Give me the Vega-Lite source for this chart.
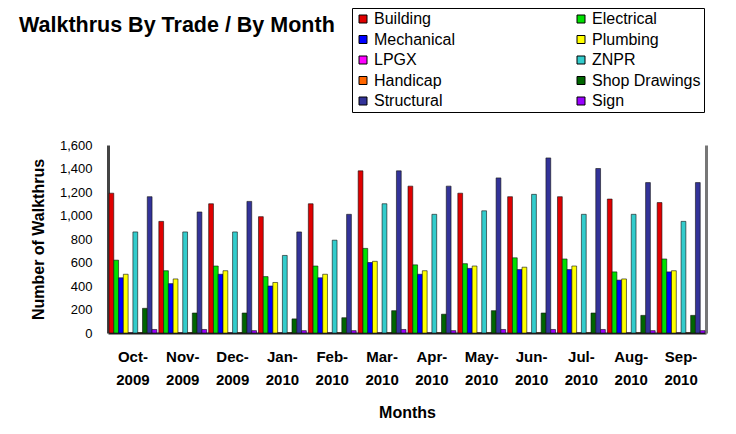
{
  "$schema": "https://vega.github.io/schema/vega-lite/v6.json",
  "autosize": "none",
  "width": 598,
  "height": 188,
  "padding": {"left": 108, "top": 145, "right": 30, "bottom": 101},
  "background": "white",
  "title": {
    "text": "Walkthrus By Trade / By Month",
    "anchor": "start",
    "frame": "group",
    "font": "Liberation Sans",
    "fontSize": 21.5,
    "fontWeight": "bold",
    "color": "black",
    "dx": -89,
    "dy": 33
  },
  "data": {
    "values": [
      {"month": "Oct-2009", "trade": "Building", "count": 1190},
      {"month": "Oct-2009", "trade": "Electrical", "count": 620},
      {"month": "Oct-2009", "trade": "Mechanical", "count": 470},
      {"month": "Oct-2009", "trade": "Plumbing", "count": 500},
      {"month": "Oct-2009", "trade": "LPGX", "count": 2},
      {"month": "Oct-2009", "trade": "ZNPR", "count": 860},
      {"month": "Oct-2009", "trade": "Handicap", "count": 3},
      {"month": "Oct-2009", "trade": "Shop Drawings", "count": 210},
      {"month": "Oct-2009", "trade": "Structural", "count": 1160},
      {"month": "Oct-2009", "trade": "Sign", "count": 30},
      {"month": "Nov-2009", "trade": "Building", "count": 950},
      {"month": "Nov-2009", "trade": "Electrical", "count": 530},
      {"month": "Nov-2009", "trade": "Mechanical", "count": 420},
      {"month": "Nov-2009", "trade": "Plumbing", "count": 460},
      {"month": "Nov-2009", "trade": "LPGX", "count": 2},
      {"month": "Nov-2009", "trade": "ZNPR", "count": 860},
      {"month": "Nov-2009", "trade": "Handicap", "count": 3},
      {"month": "Nov-2009", "trade": "Shop Drawings", "count": 170},
      {"month": "Nov-2009", "trade": "Structural", "count": 1030},
      {"month": "Nov-2009", "trade": "Sign", "count": 30},
      {"month": "Dec-2009", "trade": "Building", "count": 1100},
      {"month": "Dec-2009", "trade": "Electrical", "count": 570},
      {"month": "Dec-2009", "trade": "Mechanical", "count": 500},
      {"month": "Dec-2009", "trade": "Plumbing", "count": 530},
      {"month": "Dec-2009", "trade": "LPGX", "count": 2},
      {"month": "Dec-2009", "trade": "ZNPR", "count": 860},
      {"month": "Dec-2009", "trade": "Handicap", "count": 3},
      {"month": "Dec-2009", "trade": "Shop Drawings", "count": 170},
      {"month": "Dec-2009", "trade": "Structural", "count": 1120},
      {"month": "Dec-2009", "trade": "Sign", "count": 20},
      {"month": "Jan-2010", "trade": "Building", "count": 990},
      {"month": "Jan-2010", "trade": "Electrical", "count": 480},
      {"month": "Jan-2010", "trade": "Mechanical", "count": 400},
      {"month": "Jan-2010", "trade": "Plumbing", "count": 430},
      {"month": "Jan-2010", "trade": "LPGX", "count": 2},
      {"month": "Jan-2010", "trade": "ZNPR", "count": 660},
      {"month": "Jan-2010", "trade": "Handicap", "count": 3},
      {"month": "Jan-2010", "trade": "Shop Drawings", "count": 120},
      {"month": "Jan-2010", "trade": "Structural", "count": 860},
      {"month": "Jan-2010", "trade": "Sign", "count": 20},
      {"month": "Feb-2010", "trade": "Building", "count": 1100},
      {"month": "Feb-2010", "trade": "Electrical", "count": 570},
      {"month": "Feb-2010", "trade": "Mechanical", "count": 470},
      {"month": "Feb-2010", "trade": "Plumbing", "count": 500},
      {"month": "Feb-2010", "trade": "LPGX", "count": 2},
      {"month": "Feb-2010", "trade": "ZNPR", "count": 790},
      {"month": "Feb-2010", "trade": "Handicap", "count": 3},
      {"month": "Feb-2010", "trade": "Shop Drawings", "count": 130},
      {"month": "Feb-2010", "trade": "Structural", "count": 1010},
      {"month": "Feb-2010", "trade": "Sign", "count": 20},
      {"month": "Mar-2010", "trade": "Building", "count": 1380},
      {"month": "Mar-2010", "trade": "Electrical", "count": 720},
      {"month": "Mar-2010", "trade": "Mechanical", "count": 600},
      {"month": "Mar-2010", "trade": "Plumbing", "count": 610},
      {"month": "Mar-2010", "trade": "LPGX", "count": 2},
      {"month": "Mar-2010", "trade": "ZNPR", "count": 1100},
      {"month": "Mar-2010", "trade": "Handicap", "count": 3},
      {"month": "Mar-2010", "trade": "Shop Drawings", "count": 190},
      {"month": "Mar-2010", "trade": "Structural", "count": 1380},
      {"month": "Mar-2010", "trade": "Sign", "count": 30},
      {"month": "Apr-2010", "trade": "Building", "count": 1250},
      {"month": "Apr-2010", "trade": "Electrical", "count": 580},
      {"month": "Apr-2010", "trade": "Mechanical", "count": 500},
      {"month": "Apr-2010", "trade": "Plumbing", "count": 530},
      {"month": "Apr-2010", "trade": "LPGX", "count": 2},
      {"month": "Apr-2010", "trade": "ZNPR", "count": 1010},
      {"month": "Apr-2010", "trade": "Handicap", "count": 3},
      {"month": "Apr-2010", "trade": "Shop Drawings", "count": 160},
      {"month": "Apr-2010", "trade": "Structural", "count": 1250},
      {"month": "Apr-2010", "trade": "Sign", "count": 20},
      {"month": "May-2010", "trade": "Building", "count": 1190},
      {"month": "May-2010", "trade": "Electrical", "count": 590},
      {"month": "May-2010", "trade": "Mechanical", "count": 550},
      {"month": "May-2010", "trade": "Plumbing", "count": 570},
      {"month": "May-2010", "trade": "LPGX", "count": 2},
      {"month": "May-2010", "trade": "ZNPR", "count": 1040},
      {"month": "May-2010", "trade": "Handicap", "count": 3},
      {"month": "May-2010", "trade": "Shop Drawings", "count": 190},
      {"month": "May-2010", "trade": "Structural", "count": 1320},
      {"month": "May-2010", "trade": "Sign", "count": 30},
      {"month": "Jun-2010", "trade": "Building", "count": 1160},
      {"month": "Jun-2010", "trade": "Electrical", "count": 640},
      {"month": "Jun-2010", "trade": "Mechanical", "count": 540},
      {"month": "Jun-2010", "trade": "Plumbing", "count": 560},
      {"month": "Jun-2010", "trade": "LPGX", "count": 2},
      {"month": "Jun-2010", "trade": "ZNPR", "count": 1180},
      {"month": "Jun-2010", "trade": "Handicap", "count": 3},
      {"month": "Jun-2010", "trade": "Shop Drawings", "count": 170},
      {"month": "Jun-2010", "trade": "Structural", "count": 1490},
      {"month": "Jun-2010", "trade": "Sign", "count": 30},
      {"month": "Jul-2010", "trade": "Building", "count": 1160},
      {"month": "Jul-2010", "trade": "Electrical", "count": 630},
      {"month": "Jul-2010", "trade": "Mechanical", "count": 540},
      {"month": "Jul-2010", "trade": "Plumbing", "count": 570},
      {"month": "Jul-2010", "trade": "LPGX", "count": 2},
      {"month": "Jul-2010", "trade": "ZNPR", "count": 1010},
      {"month": "Jul-2010", "trade": "Handicap", "count": 3},
      {"month": "Jul-2010", "trade": "Shop Drawings", "count": 170},
      {"month": "Jul-2010", "trade": "Structural", "count": 1400},
      {"month": "Jul-2010", "trade": "Sign", "count": 30},
      {"month": "Aug-2010", "trade": "Building", "count": 1140},
      {"month": "Aug-2010", "trade": "Electrical", "count": 520},
      {"month": "Aug-2010", "trade": "Mechanical", "count": 450},
      {"month": "Aug-2010", "trade": "Plumbing", "count": 460},
      {"month": "Aug-2010", "trade": "LPGX", "count": 2},
      {"month": "Aug-2010", "trade": "ZNPR", "count": 1010},
      {"month": "Aug-2010", "trade": "Handicap", "count": 3},
      {"month": "Aug-2010", "trade": "Shop Drawings", "count": 150},
      {"month": "Aug-2010", "trade": "Structural", "count": 1280},
      {"month": "Aug-2010", "trade": "Sign", "count": 20},
      {"month": "Sep-2010", "trade": "Building", "count": 1110},
      {"month": "Sep-2010", "trade": "Electrical", "count": 630},
      {"month": "Sep-2010", "trade": "Mechanical", "count": 520},
      {"month": "Sep-2010", "trade": "Plumbing", "count": 530},
      {"month": "Sep-2010", "trade": "LPGX", "count": 2},
      {"month": "Sep-2010", "trade": "ZNPR", "count": 950},
      {"month": "Sep-2010", "trade": "Handicap", "count": 3},
      {"month": "Sep-2010", "trade": "Shop Drawings", "count": 150},
      {"month": "Sep-2010", "trade": "Structural", "count": 1280},
      {"month": "Sep-2010", "trade": "Sign", "count": 20}
    ]
  },
  "encoding": {
    "x": {
      "field": "month",
      "type": "nominal",
      "sort": null,
      "scale": {"paddingInner": 0.04, "paddingOuter": 0.02},
      "axis": {
        "title": "Months",
        "labelAngle": 0,
        "labelExpr": "[split(datum.value, '-')[0] + '-', split(datum.value, '-')[1]]",
        "labelFont": "Liberation Sans",
        "labelFontSize": 15,
        "labelFontWeight": "bold",
        "labelColor": "black",
        "labelLineHeight": 23,
        "labelPadding": 23,
        "labelBaseline": "middle",
        "ticks": false,
        "domainColor": "#222222",
        "domainWidth": 2,
        "titleFont": "Liberation Sans",
        "titleFontSize": 16,
        "titleFontWeight": "bold",
        "titleColor": "black",
        "titlePadding": 17
      }
    },
    "xOffset": {
      "field": "trade",
      "type": "nominal",
      "sort": ["Building", "Electrical", "Mechanical", "Plumbing", "LPGX", "ZNPR", "Handicap", "Shop Drawings", "Structural", "Sign"],
      "scale": {"paddingInner": 0, "paddingOuter": 0}
    },
    "y": {
      "field": "count",
      "type": "quantitative",
      "scale": {"domain": [0, 1600]}
    }
  },
  "layer": [
    {
      "mark": {"type": "bar", "stroke": "#111111", "strokeWidth": 0.6},
      "encoding": {
        "y": {
          "field": "count",
          "type": "quantitative",
          "scale": {"domain": [0, 1600]},
          "axis": {
            "title": "Number of Walkthrus",
            "values": [0, 200, 400, 600, 800, 1000, 1200, 1400, 1600],
            "format": ",d",
            "grid": false,
            "labelFont": "Liberation Sans",
            "labelFontSize": 13,
            "labelColor": "black",
            "labelPadding": 16,
            "tickSize": 0,
            "domainColor": "#444444",
            "domainWidth": 3,
            "titleFont": "Liberation Sans",
            "titleFontSize": 16,
            "titleFontWeight": "bold",
            "titleColor": "black",
            "titlePadding": 13
          }
        },
        "color": {
          "field": "trade",
          "type": "nominal",
          "sort": ["Building", "Electrical", "Mechanical", "Plumbing", "LPGX", "ZNPR", "Handicap", "Shop Drawings", "Structural", "Sign"],
          "scale": {
            "domain": ["Building", "Electrical", "Mechanical", "Plumbing", "LPGX", "ZNPR", "Handicap", "Shop Drawings", "Structural", "Sign"],
            "range": ["#E00000", "#00E000", "#0000FF", "#FFFF00", "#FF00FF", "#33CCCC", "#FF6600", "#006600", "#333399", "#9900FF"]
          },
          "legend": {
            "title": null,
            "orient": "none",
            "legendX": 244,
            "legendY": -137,
            "columns": 2,
            "direction": "horizontal",
            "symbolType": "square",
            "symbolSize": 64,
            "symbolStrokeColor": "black",
            "symbolStrokeWidth": 1,
            "labelFont": "Liberation Sans",
            "labelFontSize": 16,
            "labelColor": "black",
            "labelOffset": 3,
            "columnPadding": 118,
            "rowPadding": 4.5,
            "padding": 3,
            "strokeColor": "black",
            "fillColor": "white",
            "symbolOpacity": 1
          }
        }
      }
    },
    {
      "mark": {"type": "bar", "opacity": 0},
      "encoding": {
        "y": {
          "field": "count",
          "type": "quantitative",
          "scale": {"domain": [0, 1600]},
          "axis": {
            "orient": "right",
            "title": null,
            "labels": false,
            "ticks": false,
            "grid": false,
            "domainColor": "#777777",
            "domainWidth": 3
          }
        }
      }
    }
  ],
  "resolve": {"axis": {"y": "independent"}},
  "config": {
    "view": {"stroke": null}
  }
}
